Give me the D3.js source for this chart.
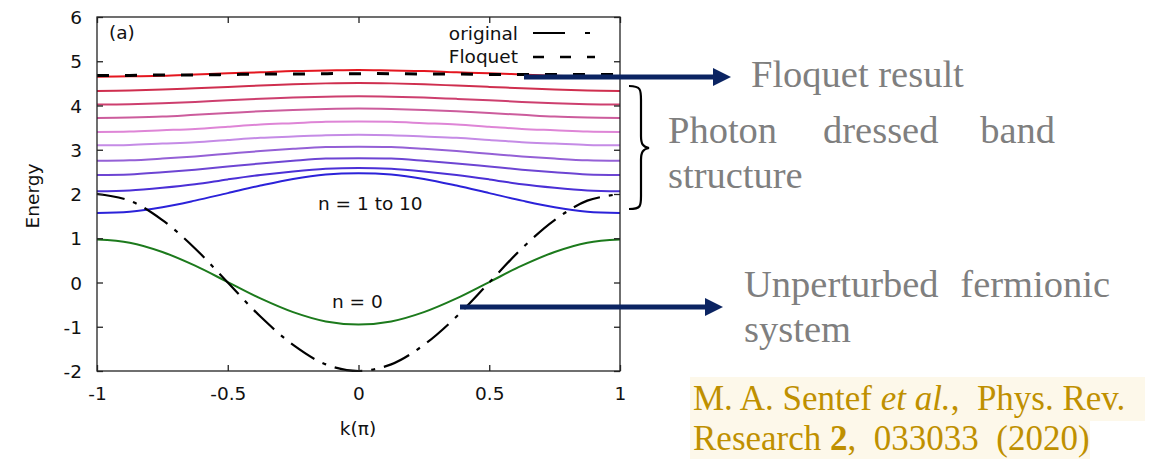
<!DOCTYPE html>
<html>
<head>
<meta charset="utf-8">
<script src="https://cdn.jsdelivr.net/npm/d3@7"></script>
<style>
  body { margin: 0; background: #fff; }
  svg { display: block; }
  .tick-label { font-family: "DejaVu Sans", sans-serif; font-size: 18.5px; fill: #111; }
  .note { font-family: "Liberation Serif", serif; font-size: 38.5px; fill: #7f7f7f; }
  .cite { font-family: "Liberation Serif", serif; font-size: 35px; fill: #bf9000; white-space: pre; }
</style>
</head>
<body>
<section id="chart"></section>
<script>
        // k in units of pi
        var kValues = [-1, -0.875, -0.75, -0.625, -0.5, -0.375, -0.25, -0.125, 0,
                       0.125, 0.25, 0.375, 0.5, 0.625, 0.75, 0.875, 1];

        var originalBand = [2, 1.85, 1.41, 0.77, 0, -0.77, -1.41, -1.85, -2,
                            -1.85, -1.41, -0.77, 0, 0.77, 1.41, 1.85, 2];
        var floquetBand = [4.68, 4.68, 4.69, 4.69, 4.70, 4.71, 4.71, 4.72, 4.72,
                           4.72, 4.71, 4.71, 4.70, 4.70, 4.70, 4.70, 4.70];
        var bandN0 = [0.97, 0.90, 0.69, 0.38, 0.01, -0.36, -0.67, -0.88, -0.95,
                      -0.88, -0.67, -0.36, 0.01, 0.38, 0.69, 0.90, 0.97];

        var bandN1 = [1.57, 1.60, 1.70, 1.85, 2.02, 2.19, 2.34, 2.44, 2.47, 2.44, 2.34, 2.19, 2.02, 1.85, 1.70, 1.60, 1.57];
        var bandN2 = [2.06, 2.08, 2.14, 2.22, 2.33, 2.43, 2.51, 2.57, 2.59, 2.57, 2.51, 2.43, 2.33, 2.22, 2.14, 2.08, 2.06];
        var bandN3 = [2.43, 2.44, 2.49, 2.55, 2.62, 2.69, 2.75, 2.80, 2.81, 2.80, 2.75, 2.69, 2.62, 2.55, 2.49, 2.44, 2.43];
        var bandN4 = [2.75, 2.76, 2.80, 2.85, 2.91, 2.97, 3.02, 3.06, 3.07, 3.06, 3.02, 2.97, 2.91, 2.85, 2.80, 2.76, 2.75];
        var bandN5 = [3.10, 3.11, 3.14, 3.17, 3.22, 3.27, 3.30, 3.33, 3.34, 3.33, 3.30, 3.27, 3.22, 3.17, 3.14, 3.11, 3.10];
        var bandN6 = [3.40, 3.41, 3.44, 3.47, 3.52, 3.57, 3.60, 3.63, 3.64, 3.63, 3.60, 3.57, 3.52, 3.47, 3.44, 3.41, 3.40];
        var bandN7 = [3.72, 3.73, 3.75, 3.79, 3.83, 3.87, 3.90, 3.92, 3.93, 3.92, 3.90, 3.87, 3.83, 3.79, 3.75, 3.73, 3.72];
        var bandN8 = [4.02, 4.03, 4.05, 4.08, 4.12, 4.15, 4.18, 4.20, 4.21, 4.20, 4.18, 4.15, 4.12, 4.08, 4.05, 4.03, 4.02];
        var bandN9 = [4.33, 4.34, 4.36, 4.39, 4.42, 4.45, 4.48, 4.50, 4.51, 4.50, 4.48, 4.45, 4.42, 4.39, 4.36, 4.34, 4.33];
        var bandN10 = [4.65, 4.66, 4.67, 4.70, 4.73, 4.75, 4.78, 4.79, 4.80, 4.79, 4.78, 4.75, 4.73, 4.70, 4.67, 4.66, 4.65];

        var dressedBands = [bandN1, bandN2, bandN3, bandN4, bandN5, bandN6, bandN7, bandN8, bandN9, bandN10];

        var xTicks = [-1, -0.5, 0, 0.5, 1];
        var xTickLabels = ["-1", "-0.5", "0", "0.5", "1"];
        var yTicks = [-2, -1, 0, 1, 2, 3, 4, 5, 6];
        var yTickLabels = ["-2", "-1", "0", "1", "2", "3", "4", "5", "6"];

        var bandColors = ["#2b22d9", "#4b30d6", "#6d45d3", "#9460d6", "#c58be6",
                          "#de85d6", "#cc5c9c", "#cd3f6e", "#cf2e4e", "#e4161f"];

        var width = 1158, height = 459;
        var plotLeft = 97, plotRight = 620, plotTop = 17, plotBottom = 371;

        var svg = d3.select("section#chart")
            .append("svg")
            .attr("width", width)
            .attr("height", height);

        var x = d3.scaleLinear().domain([-1, 1]).range([plotLeft, plotRight]);
        var y = d3.scaleLinear().domain([-2, 6]).range([plotBottom, plotTop]);

        var line = d3.line()
            .x(function(d, i) { return x(kValues[i]); })
            .y(function(d) { return y(d); })
            .curve(d3.curveCatmullRom);

        var plot = svg.append("g");

        // photon dressed bands n = 1..10
        plot.selectAll(".band")
            .data(dressedBands)
            .enter()
            .append("path")
            .attr("class", "band")
            .attr("d", line)
            .attr("fill", "none")
            .attr("stroke", function(d, i) { return bandColors[i]; })
            .attr("stroke-width", 2);

        plot.append("path")
            .attr("d", line(bandN0))
            .attr("fill", "none")
            .attr("stroke", "#1c7a1c")
            .attr("stroke-width", 2);

        plot.append("path")
            .attr("d", line(originalBand))
            .attr("fill", "none")
            .attr("stroke", "#000")
            .attr("stroke-width", 2.2)
            .attr("stroke-dasharray", "28,9,4,9");

        plot.append("path")
            .attr("d", line(floquetBand))
            .attr("fill", "none")
            .attr("stroke", "#000")
            .attr("stroke-width", 3)
            .attr("stroke-dasharray", "12,16");

        // frame
        svg.append("rect")
            .attr("x", plotLeft).attr("y", plotTop)
            .attr("width", plotRight - plotLeft).attr("height", plotBottom - plotTop)
            .attr("fill", "none")
            .attr("stroke", "#222")
            .attr("stroke-width", 1.3);

        // axes with inward ticks
        var axisB = svg.append("g").attr("transform", "translate(0," + plotBottom + ")")
            .call(d3.axisBottom(x).tickValues(xTicks).tickSizeInner(-6).tickSizeOuter(0)
                .tickFormat(function(d, i) { return xTickLabels[i]; }));
        var axisT = svg.append("g").attr("transform", "translate(0," + plotTop + ")")
            .call(d3.axisTop(x).tickValues(xTicks).tickSizeInner(-6).tickSizeOuter(0).tickFormat(""));
        var axisL = svg.append("g").attr("transform", "translate(" + plotLeft + ",0)")
            .call(d3.axisLeft(y).tickValues(yTicks).tickSizeInner(-6).tickSizeOuter(0)
                .tickFormat(function(d, i) { return yTickLabels[i]; }));
        var axisR = svg.append("g").attr("transform", "translate(" + plotRight + ",0)")
            .call(d3.axisRight(y).tickValues(yTicks).tickSizeInner(-6).tickSizeOuter(0).tickFormat(""));

        [axisB, axisT, axisL, axisR].forEach(function(a) {
            a.select(".domain").remove();
            a.selectAll(".tick line").attr("stroke", "#222").attr("stroke-width", 1.3);
        });
        axisB.selectAll(".tick text")
            .attr("class", "tick-label")
            .attr("y", 16)
            .attr("dy", "0.71em")
            .attr("font-size", null).attr("font-family", null);
        axisL.selectAll(".tick text")
            .attr("class", "tick-label")
            .attr("x", -15)
            .attr("dy", "0.36em")
            .attr("font-size", null).attr("font-family", null);

        svg.append("text")
            .attr("class", "tick-label")
            .attr("x", 358).attr("y", 435)
            .attr("text-anchor", "middle")
            .text("k(π)");

        svg.append("text")
            .attr("class", "tick-label")
            .attr("transform", "translate(39,196) rotate(-90)")
            .attr("text-anchor", "middle")
            .text("Energy");

        svg.append("text")
            .attr("class", "tick-label")
            .attr("x", 109).attr("y", 39)
            .text("(a)");

        // legend
        svg.append("text").attr("class", "tick-label")
            .attr("x", 518).attr("y", 40).attr("text-anchor", "end").text("original");
        svg.append("text").attr("class", "tick-label")
            .attr("x", 518).attr("y", 63).attr("text-anchor", "end").text("Floquet");
        svg.append("line")
            .attr("x1", 533).attr("x2", 593).attr("y1", 33).attr("y2", 33)
            .attr("stroke", "#000").attr("stroke-width", 2.2)
            .attr("stroke-dasharray", "32,20,5,20");
        svg.append("line")
            .attr("x1", 533).attr("x2", 595).attr("y1", 57).attr("y2", 57)
            .attr("stroke", "#000").attr("stroke-width", 2.5)
            .attr("stroke-dasharray", "11,16");

        svg.append("text").attr("class", "tick-label")
            .attr("x", 318).attr("y", 210).text("n = 1 to 10");
        svg.append("text").attr("class", "tick-label")
            .attr("x", 332).attr("y", 308).text("n = 0");

        // annotations
        var navy = "#0b2462";
        function arrow(x1, x2, yy) {
            svg.append("line")
                .attr("x1", x1).attr("x2", x2 - 14).attr("y1", yy).attr("y2", yy)
                .attr("stroke", navy).attr("stroke-width", 5);
            svg.append("path")
                .attr("d", "M" + (x2 - 18) + "," + (yy - 9) + "L" + x2 + "," + yy + "L" + (x2 - 18) + "," + (yy + 9) + "Z")
                .attr("fill", navy);
        }
        arrow(524, 731, 77);
        arrow(460, 723, 307);

        svg.append("text").attr("class", "note").attr("x", 751).attr("y", 87).text("Floquet result");
        svg.append("text").attr("class", "note").attr("x", 668).attr("y", 143).text("Photon");
        svg.append("text").attr("class", "note").attr("x", 823).attr("y", 143).text("dressed");
        svg.append("text").attr("class", "note").attr("x", 1055).attr("y", 143).attr("text-anchor", "end").text("band");
        svg.append("text").attr("class", "note").attr("x", 668).attr("y", 188).text("structure");

        svg.append("text").attr("class", "note").attr("x", 744).attr("y", 297).text("Unperturbed");
        svg.append("text").attr("class", "note").attr("x", 1110).attr("y", 297).attr("text-anchor", "end").text("fermionic");
        svg.append("text").attr("class", "note").attr("x", 744).attr("y", 342).text("system");

        // brace
        svg.append("path")
            .attr("d", "M629,86 C641,86 641,90 641,100 L641,136 C641,144 643,147 649,148 " +
                       "C643,149 641,152 641,160 L641,196 C641,206 641,209 629,209")
            .attr("fill", "none")
            .attr("stroke", "#000")
            .attr("stroke-width", 2.2);

        // citation
        svg.append("rect").attr("x", 690).attr("y", 377).attr("width", 455).attr("height", 44).attr("fill", "#fdf8ea");
        svg.append("rect").attr("x", 690).attr("y", 421).attr("width", 400).attr("height", 38).attr("fill", "#fdf8ea");

        var c1 = svg.append("text").attr("class", "cite").attr("x", 693).attr("y", 410);
        c1.append("tspan").text("M. A. Sentef ");
        c1.append("tspan").attr("font-style", "italic").text("et al.");
        c1.append("tspan").text(",  Phys. Rev.");
        var c2 = svg.append("text").attr("class", "cite").attr("x", 693).attr("y", 450);
        c2.append("tspan").text("Research ");
        c2.append("tspan").attr("font-weight", "bold").text("2");
        c2.append("tspan").text(",  033033  (2020)");
</script>
</body>
</html>
